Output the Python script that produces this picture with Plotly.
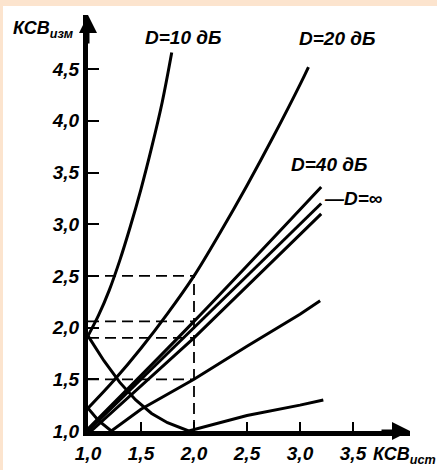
import plotly.graph_objects as go

# ---- tick labels ----
x_tickvals = [1.0, 1.5, 2.0, 2.5, 3.0, 3.5]
x_ticktext = ["1,0", "1,5", "2,0", "2,5", "3,0", "3,5"]
y_tickvals = [1.0, 1.5, 2.0, 2.5, 3.0, 3.5, 4.0, 4.5]
y_ticktext = ["1,0", "1,5", "2,0", "2,5", "3,0", "3,5", "4,0", "4,5"]

# ---- curves (KSV_ist -> KSV_izm) ----
d10_up_x = [1.0, 1.1, 1.2, 1.3, 1.4, 1.5, 1.6, 1.7, 1.79]
d10_up_y = [1.92, 2.12, 2.36, 2.65, 2.98, 3.34, 3.74, 4.18, 4.66]
d10_lo_x = [1.0, 1.15, 1.3, 1.45, 1.6, 1.75, 1.95, 2.1, 2.5, 3.0, 3.22]
d10_lo_y = [1.92, 1.68, 1.47, 1.30, 1.17, 1.08, 1.0, 1.04, 1.15, 1.25, 1.30]

d20_up_x = [1.0, 1.25, 1.5, 1.75, 2.0, 2.25, 2.5, 2.75, 3.0, 3.08]
d20_up_y = [1.22, 1.495, 1.80, 2.135, 2.50, 2.925, 3.375, 3.85, 4.35, 4.52]
d20_lo_x = [1.0, 1.1, 1.22, 1.5, 2.0, 2.5, 3.0, 3.19]
d20_lo_y = [1.22, 1.1, 1.0, 1.21, 1.5, 1.82, 2.13, 2.26]

d40_up_x = [1.0, 2.0, 3.2]
d40_up_y = [1.02, 2.06, 3.36]
dinf_x = [1.0, 2.0, 3.2]
dinf_y = [1.0, 2.0, 3.2]
d40_lo_x = [1.0, 1.03, 2.0, 3.2]
d40_lo_y = [1.02, 1.0, 1.9, 3.1]

# ---- reading lines at KSV_ist = 2.0 ----
read_x = 2.0
read_y = [2.5, 2.06, 1.9, 1.5]

FONT = "Liberation Sans, Arial, sans-serif"
PEACH = "#FCE4CE"
fig = go.Figure()

solid = [
    (d10_up_x, d10_up_y, "spline"),
    (d10_lo_x, d10_lo_y, "linear"),
    (d20_up_x, d20_up_y, "spline"),
    (d20_lo_x, d20_lo_y, "linear"),
    (d40_up_x, d40_up_y, "spline"),
    (dinf_x, dinf_y, "linear"),
    (d40_lo_x, d40_lo_y, "linear"),
]
for xs, ys, shp in solid:
    fig.add_trace(go.Scatter(x=xs, y=ys, mode="lines",
                             line=dict(color="black", width=3, shape=shp),
                             showlegend=False, hoverinfo="skip"))

# dashed reading lines
for ry in read_y:
    fig.add_trace(go.Scatter(x=[x_tickvals[0], read_x], y=[ry, ry], mode="lines",
                             line=dict(color="black", width=1.8, dash="11px,6px"),
                             showlegend=False, hoverinfo="skip"))
fig.add_trace(go.Scatter(x=[read_x, read_x], y=[y_tickvals[0], max(read_y)], mode="lines",
                         line=dict(color="black", width=1.8, dash="11px,6px"),
                         showlegend=False, hoverinfo="skip"))

W, H = 437, 470
L, R, T, B = 88, 27, 15, 39
pw, ph = W - L - R, H - T - B


def px(p):
    return (p - L) / pw


def py(q):
    return (H - B - q) / ph


# peach frame bands (top and left)
fig.add_shape(type="rect", xref="paper", yref="paper",
              x0=px(-2), x1=px(W + 2), y0=py(6), y1=py(-2),
              fillcolor=PEACH, line=dict(width=0), layer="below")
fig.add_shape(type="rect", xref="paper", yref="paper",
              x0=px(-2), x1=px(3), y0=py(H + 2), y1=py(-2),
              fillcolor=PEACH, line=dict(width=0), layer="below")

lab = dict(family=FONT, size=19, color="black", style="italic", weight="bold")
fig.add_annotation(x=1.90, y=4.81, text="D=10 дБ", showarrow=False, font=lab)
fig.add_annotation(x=3.35, y=4.80, text="D=20 дБ", showarrow=False, font=lab)
fig.add_annotation(x=3.27, y=3.58, text="D=40 дБ", showarrow=False, font=lab)
fig.add_annotation(x=3.21, y=3.25, text="—D=∞", showarrow=False, font=lab,
                   xanchor="left")
fig.add_annotation(xref="paper", yref="paper", x=px(11), y=py(30),
                   text="КСВ<sub>изм</sub>", showarrow=False,
                   font=dict(lab, size=18), xanchor="left", yanchor="middle")
fig.add_annotation(xref="paper", yref="paper", x=px(371), y=py(456),
                   text="КСВ<sub>ист</sub>", showarrow=False,
                   font=dict(lab, size=18), xanchor="left", yanchor="middle")

# axis arrows
fig.add_annotation(xref="paper", yref="paper", x=0, y=1.0, ax=0, ay=30,
                   axref="pixel", ayref="pixel", text="", showarrow=True,
                   arrowhead=2, arrowsize=1.2, arrowwidth=3, arrowcolor="black")
fig.add_annotation(xref="paper", yref="paper", x=1.0, y=0, ax=-30, ay=0,
                   axref="pixel", ayref="pixel", text="", showarrow=True,
                   arrowhead=2, arrowsize=1.2, arrowwidth=3, arrowcolor="black")

tickfont = dict(family=FONT, size=19, color="black", style="italic", weight="bold")
fig.update_xaxes(range=[1.0, 1.0 + pw / 106.0], tickvals=x_tickvals, ticktext=x_ticktext,
                 showline=True, linewidth=5, linecolor="black", ticks="inside",
                 ticklen=9, tickwidth=2, tickcolor="black", showgrid=False,
                 zeroline=False, tickfont=tickfont, ticklabelstandoff=1,
                 automargin=False)
fig.update_yaxes(range=[1.0, 1.0 + ph / 103.4], tickvals=y_tickvals, ticktext=y_ticktext,
                 showline=True, linewidth=5, linecolor="black", ticks="inside",
                 ticklen=11, tickwidth=2, tickcolor="black", showgrid=False,
                 zeroline=False, tickfont=tickfont, automargin=False)
fig.update_layout(width=W, height=H, margin=dict(l=L, r=R, t=T, b=B),
                  paper_bgcolor="white", plot_bgcolor="white",
                  showlegend=False)
fig.write_html("out.html", config={"displayModeBar": False},
               post_script="document.body.style.margin='0px';")
